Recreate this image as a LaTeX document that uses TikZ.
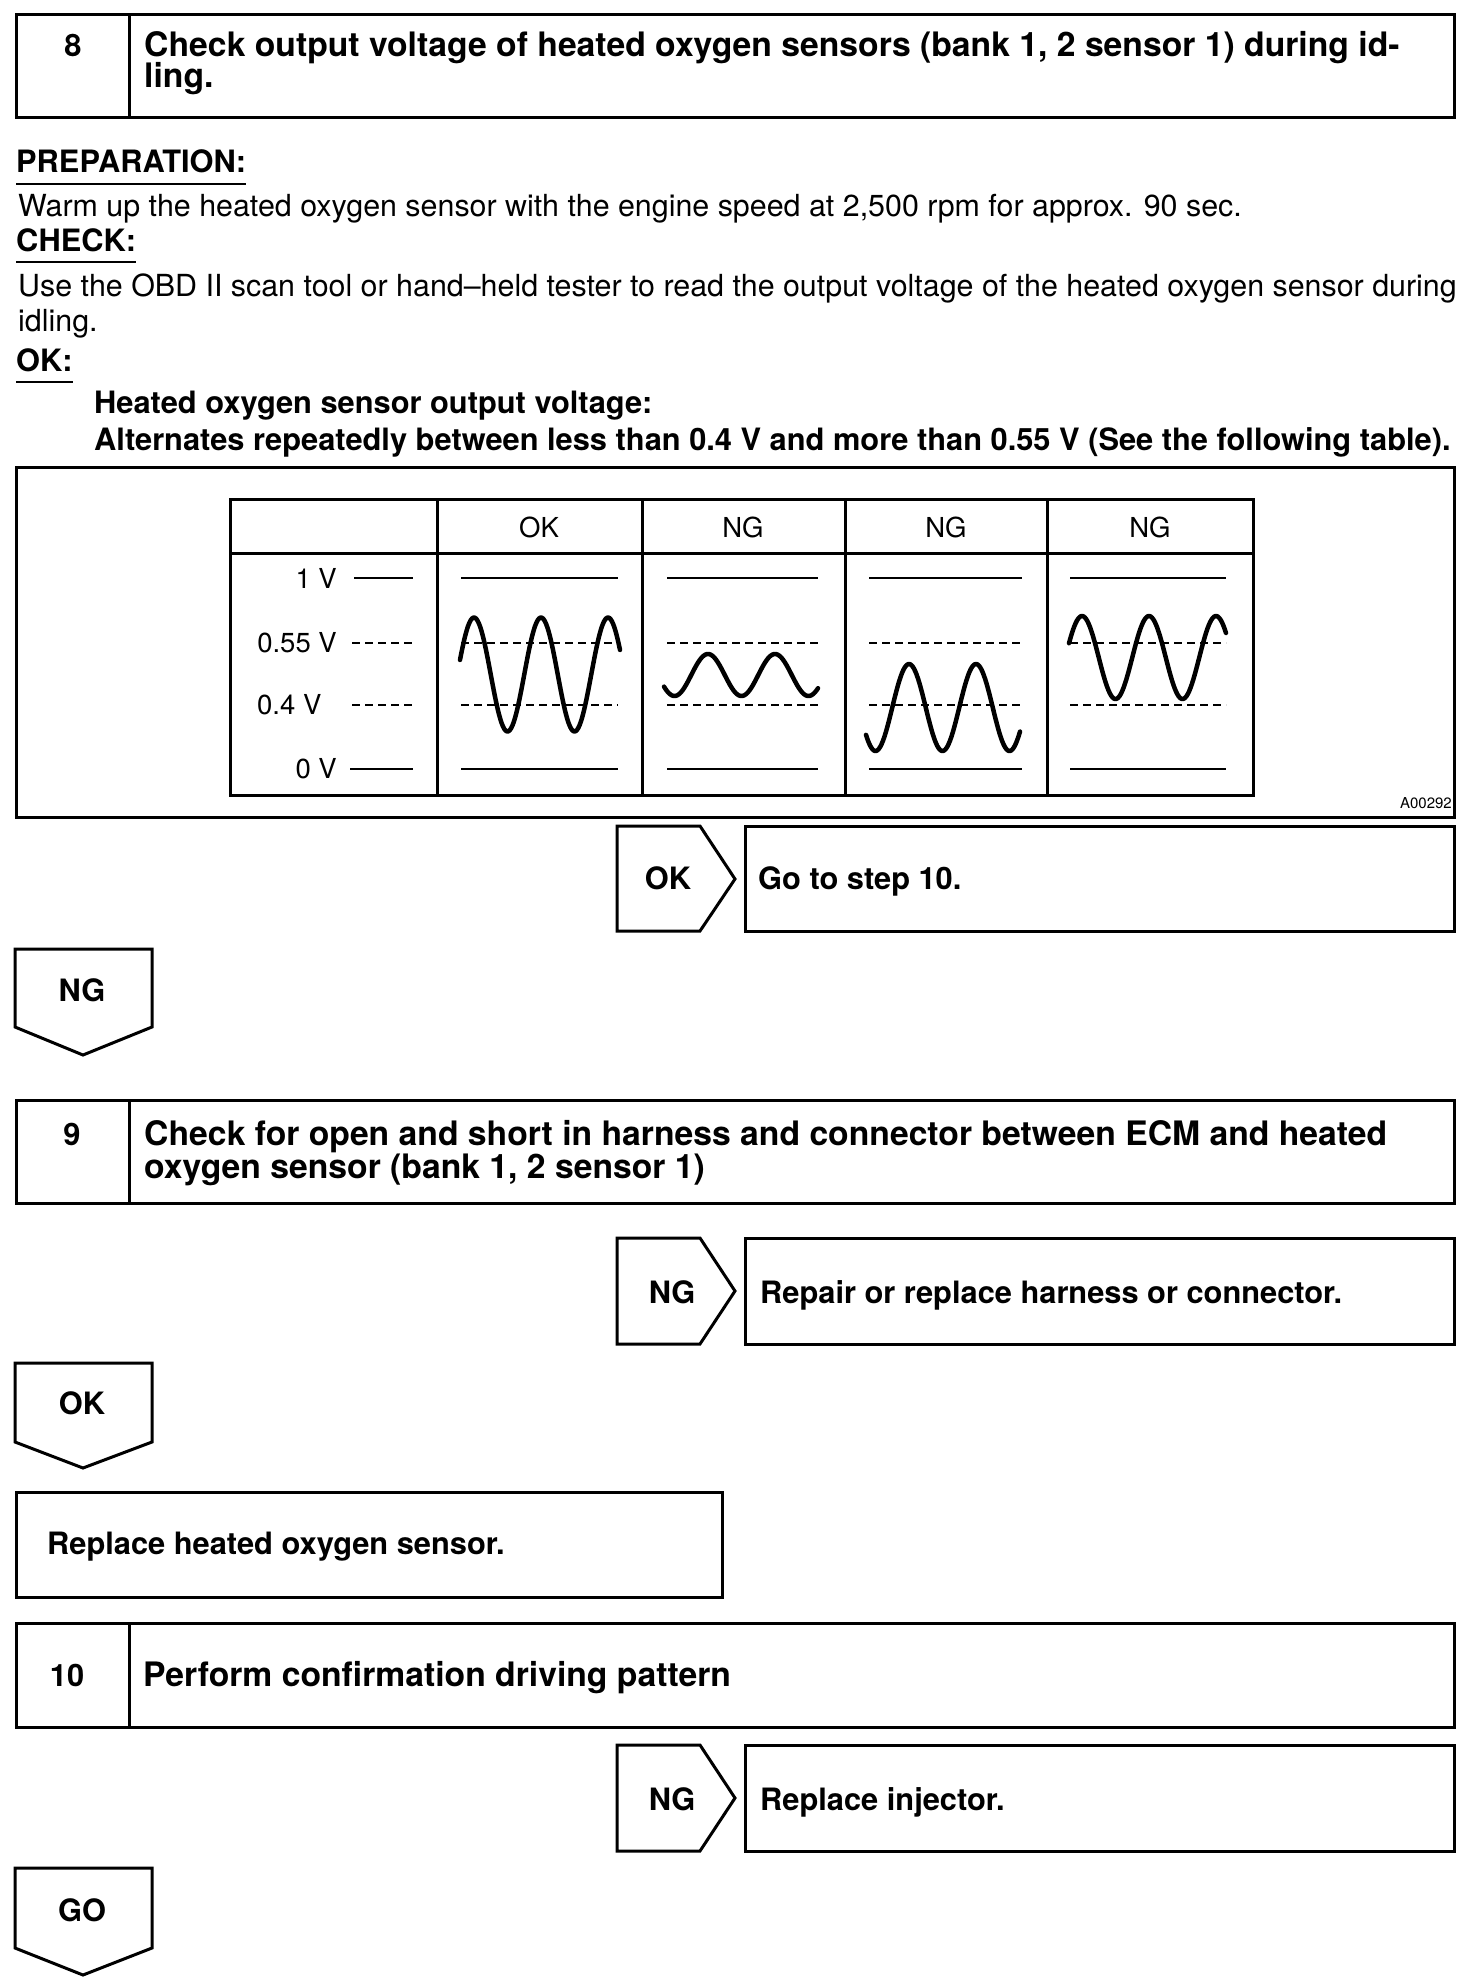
\documentclass[tikz,border=0pt]{standalone}
\usepackage{fontspec}
\setmainfont{TeX Gyre Heros}
\newcommand\myBody{\fontsize{30.8}{36}\selectfont}
\newcommand\myReg{\fontsize{30.4}{36}\selectfont}
\newcommand\myTitle{\fontsize{33.7}{38}\selectfont}
\newcommand\myTab{\fontsize{27.5}{32}\selectfont}
\newcommand\mySmall{\fontsize{15}{18}\selectfont}
\newcommand\myWave[5]{\draw[wave] plot[domain=#1:#2, samples=120, smooth] (\x,{#4-#5*cos(((\x-#3)/67)*360)});}
\begin{document}
\begin{tikzpicture}[x=1pt,y=-1pt]
\tikzset{
  box/.style={draw, line width=3pt},
  txt/.style={inner sep=0pt, font=\myReg},
  btxt/.style={inner sep=0pt, font=\myBody\bfseries},
  ttl/.style={inner sep=0pt, font=\myTitle\bfseries},
  ttxt/.style={inner sep=0pt, font=\myTab},
  uline/.style={line width=2.6pt},
  lvl/.style={line width=2.8pt},
  dsh/.style={line width=2.5pt, dash pattern=on 8pt off 5pt},
  wave/.style={line width=4.5pt, line cap=round, line join=round},
}
\fill[white] (0,0) rectangle (1472,1986);
\useasboundingbox (0,0) rectangle (1472,1986);

% ---------- Step 8 ----------
\draw[box] (16,14) rectangle (1454,117);
\draw[box] (129,14) -- (129,117);
\node[btxt, anchor=base] (n8) at (73,56) {8};
\node[ttl, anchor=base west] (t8a) at (144,56) {Check output voltage of heated oxygen sensors (bank 1, 2 sensor 1) during id-};
\node[ttl, anchor=base west] (t8b) at (144,87) {ling.};

% ---------- Text block ----------
\node[btxt, anchor=base west] (prep) at (16,172) {PREPARATION:};
\draw[uline] ([yshift=-12pt]prep.base west) -- ([yshift=-12pt]prep.base east);
\node[txt, anchor=base west] (warm) at (18,216) {Warm up the heated oxygen sensor with the engine speed at 2,500 rpm for approx. 90 sec.};
\node[btxt, anchor=base west] (chk) at (16,251) {CHECK:};
\draw[uline] ([yshift=-11pt]chk.base west) -- ([yshift=-11pt]chk.base east);
\node[txt, anchor=base west] (use) at (18,296) {Use the OBD II scan tool or hand\textendash held tester to read the output voltage of the heated oxygen sensor during};
\node[txt, anchor=base west] (idl) at (18,331) {idling.};
\node[btxt, anchor=base west] (okh) at (16,371) {OK:};
\draw[uline] ([yshift=-11pt]okh.base west) -- ([yshift=-11pt]okh.base east);
\node[btxt, anchor=base west] (hos) at (94,413) {Heated oxygen sensor output voltage:};
\node[btxt, anchor=base west] (alt) at (94,450) {Alternates repeatedly between less than 0.4 V and more than 0.55 V (See the following table).};

% ---------- Figure box ----------
\draw[box] (16,467) rectangle (1454,817);
\draw[box] (230,499) rectangle (1253,795);
\draw[box] (230,553) -- (1253,553);
\foreach \c in {437,642,845,1047} { \draw[box] (\c,499) -- (\c,795); }
\node[ttxt] (hok) at (539,527) {OK};
\node[ttxt] (hng1) at (743,527) {NG};
\node[ttxt] (hng2) at (946,527) {NG};
\node[ttxt] (hng3) at (1150,527) {NG};

\node[ttxt, anchor=east] (v1) at (337,578) {1 V};
\node[ttxt, anchor=east] (v055) at (337,643) {0.55 V};
\node[ttxt, anchor=west] (v04) at (257,705) {0.4 V};
\node[ttxt, anchor=east] (v0) at (337,769) {0 V};
\draw[lvl] (354,578) -- (413,578);
\draw[dsh] (352,643) -- (413,643);
\draw[dsh] (352,705) -- (413,705);
\draw[lvl] (350,769) -- (413,769);

\foreach \a/\b in {461/618, 667/818, 869/1022, 1070/1226} {
  \draw[lvl] (\a,578) -- (\b,578);
  \draw[lvl] (\a,769) -- (\b,769);
  \draw[dsh] (\a,643) -- (\b,643);
  \draw[dsh] (\a,705) -- (\b,705);
}
\myWave{460}{620}{474}{674.5}{57}
\myWave{664}{818}{708}{675}{21}
\myWave{866}{1020}{909}{707.5}{43.5}
\myWave{1069}{1226}{1082}{657.5}{41.5}
\node[inner sep=0pt, font=\mySmall, anchor=east] (code) at (1452,803) {A00292};

% ---------- OK -> Go to step 10 ----------
\draw[box] (617,826) -- (700,826) -- (735,879) -- (700,931) -- (617,931) -- cycle;
\node[btxt, anchor=base] (ok1) at (668,889) {OK};
\draw[box] (745,826) rectangle (1454,931);
\node[btxt, anchor=base west] (go10) at (758,889) {Go to step 10.};

% ---------- NG down ----------
\draw[box] (15,949) -- (152,949) -- (152,1027) -- (83,1055) -- (15,1027) -- cycle;
\node[btxt, anchor=base] (ng1) at (82,1001) {NG};

% ---------- Step 9 ----------
\draw[box] (16,1100) rectangle (1454,1203);
\draw[box] (129,1100) -- (129,1203);
\node[btxt, anchor=base] (n9) at (72,1145) {9};
\node[ttl, anchor=base west] (t9a) at (144,1145) {Check for open and short in harness and connector between ECM and heated};
\node[ttl, anchor=base west] (t9b) at (144,1178) {oxygen sensor (bank 1, 2 sensor 1)};

\draw[box] (617,1238) -- (700,1238) -- (735,1291) -- (700,1344) -- (617,1344) -- cycle;
\node[btxt, anchor=base] (ng2) at (672,1303) {NG};
\draw[box] (745,1238) rectangle (1454,1344);
\node[btxt, anchor=base west] (rep) at (760,1303) {Repair or replace harness or connector.};

\draw[box] (15,1363) -- (152,1363) -- (152,1442) -- (83,1468) -- (15,1442) -- cycle;
\node[btxt, anchor=base] (ok2) at (82,1414) {OK};

\draw[box] (16,1492) rectangle (722,1597);
\node[btxt, anchor=base west] (rhos) at (47,1554) {Replace heated oxygen sensor.};

% ---------- Step 10 ----------
\draw[box] (16,1623) rectangle (1454,1727);
\draw[box] (129,1623) -- (129,1727);
\node[btxt, anchor=base] (n10) at (67,1686) {10};
\node[ttl, anchor=base west] (t10) at (143,1686) {Perform confirmation driving pattern};

\draw[box] (617,1745) -- (700,1745) -- (735,1798) -- (700,1851) -- (617,1851) -- cycle;
\node[btxt, anchor=base] (ng3) at (672,1810) {NG};
\draw[box] (745,1745) rectangle (1454,1851);
\node[btxt, anchor=base west] (rinj) at (760,1810) {Replace injector.};

\draw[box] (15,1868) -- (152,1868) -- (152,1948) -- (83,1975) -- (15,1948) -- cycle;
\node[btxt, anchor=base] (go) at (82,1921) {GO};
\end{tikzpicture}
\end{document}
